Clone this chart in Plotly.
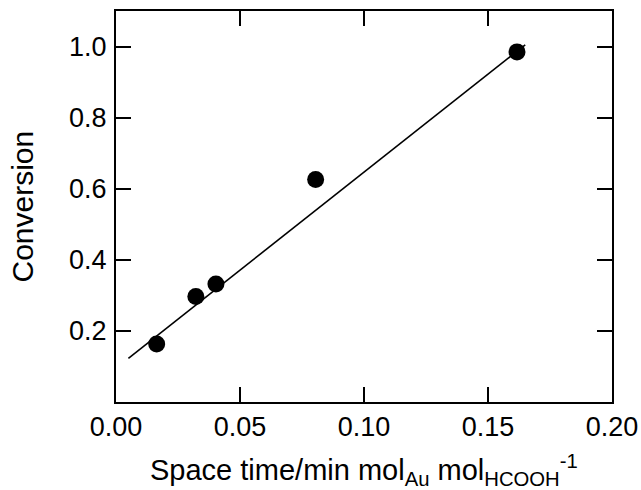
import plotly.graph_objects as go

space_time = [0.0164, 0.0322, 0.0403, 0.0805, 0.1617]
conversion = [0.163, 0.297, 0.332, 0.626, 0.985]

fit_x = [0.005, 0.165]
fit_y = [0.123, 1.005]

x_ticks = [0.00, 0.05, 0.10, 0.15, 0.20]
x_tick_labels = ["0.00", "0.05", "0.10", "0.15", "0.20"]
y_ticks = [0.2, 0.4, 0.6, 0.8, 1.0]
y_tick_labels = ["0.2", "0.4", "0.6", "0.8", "1.0"]

x_title = "Space time/min mol<sub>Au</sub> mol<sub>HCOOH</sub><sup>-1</sup>"
y_title = "Conversion"

FONT = "Liberation Sans, Arial, Helvetica, sans-serif"

fig = go.Figure()
fig.add_trace(go.Scatter(x=fit_x, y=fit_y, mode="lines",
                         line=dict(color="black", width=1.6), showlegend=False))
fig.add_trace(go.Scatter(x=space_time, y=conversion, mode="markers",
                         marker=dict(color="black", size=17, line=dict(width=0)),
                         showlegend=False))

axis_common = dict(
    showline=True, linecolor="black", linewidth=2, mirror="ticks",
    ticks="inside", ticklen=15, tickwidth=2, tickcolor="black",
    showgrid=False, zeroline=False,
    tickfont=dict(family=FONT, size=27, color="black"),
)

fig.update_xaxes(range=[0, 0.2], tickvals=x_ticks, ticktext=x_tick_labels,
                 **axis_common)
fig.update_yaxes(range=[0, 1.1], tickvals=y_ticks, ticktext=y_tick_labels,
                 showticklabels=False, **axis_common)

# y tick labels placed closer to the axis than plotly's default
for v, t in zip(y_ticks, y_tick_labels):
    fig.add_annotation(x=0, xref="paper", y=v, yref="y", text=t, showarrow=False,
                       xanchor="right", yanchor="middle", xshift=-7,
                       font=dict(family=FONT, size=27, color="black"))

fig.add_annotation(x=0.5, xref="paper", y=0, yref="paper", text=x_title,
                   showarrow=False, xanchor="center", yanchor="top", yshift=-46, xshift=0,
                   font=dict(family=FONT, size=29, color="black"))
fig.add_annotation(x=0, xref="paper", y=0.5, yref="paper", text=y_title,
                   showarrow=False, textangle=-90, xanchor="center", yanchor="middle",
                   xshift=-94,
                   font=dict(family=FONT, size=30, color="black"))

fig.update_layout(width=641, height=490,
                  margin=dict(l=116, r=29, t=11, b=88, autoexpand=False),
                  plot_bgcolor="white", paper_bgcolor="white")

fig.write_html("out.html")
